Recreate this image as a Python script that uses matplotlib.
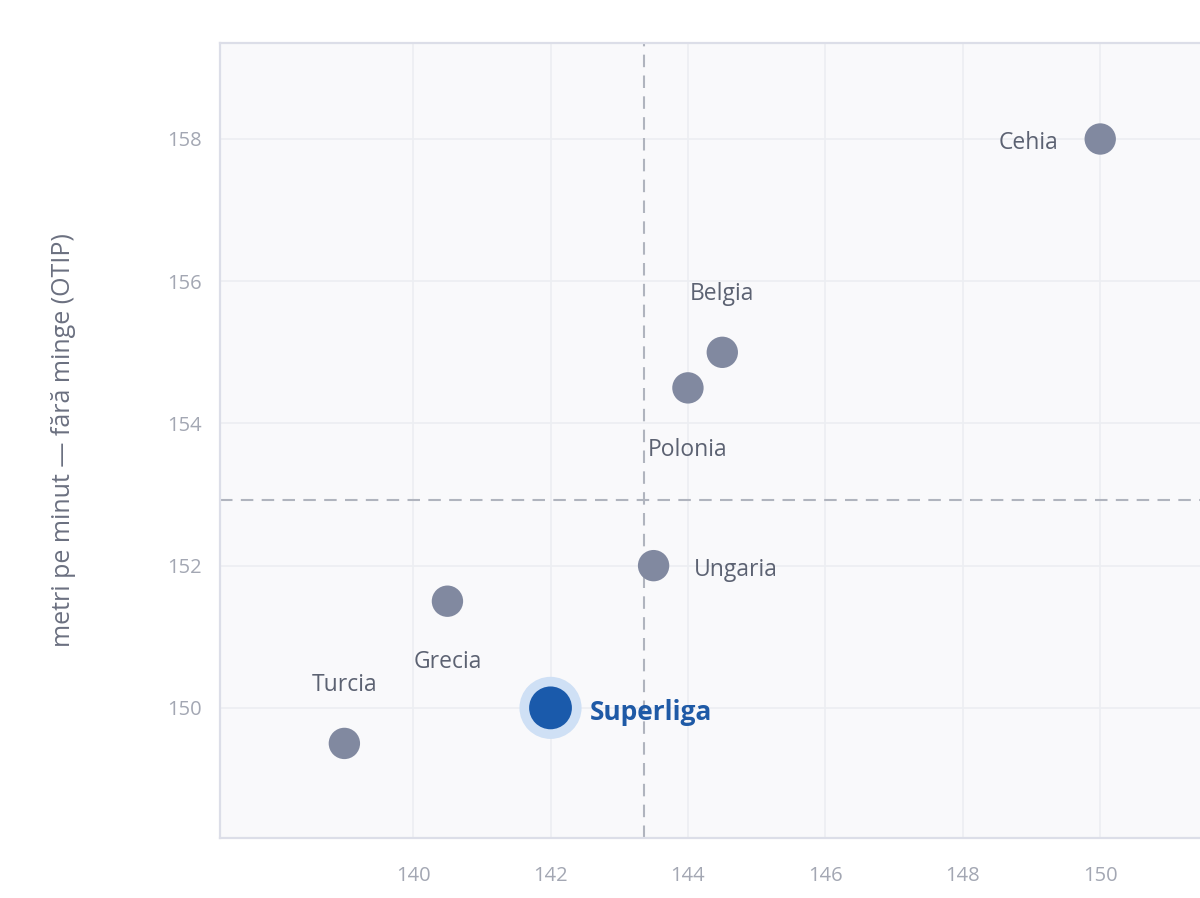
import numpy as np
import matplotlib.pyplot as plt

# data
countries = ["Cehia", "Belgia", "Polonia", "Ungaria", "Grecia", "Turcia", "Superliga"]
x_vals = [150.0, 144.5, 144.0, 143.5, 140.5, 139.0, 142.0]
y_vals = [158.0, 155.0, 154.5, 152.0, 151.5, 149.5, 150.0]
x_ticks = [140, 142, 144, 146, 148, 150]
y_ticks = [150, 152, 154, 156, 158]
y_label = "metri pe minut — fără minge (OTIP)"
highlight = "Superliga"

# label placement (offset in points, alignment)
label_pos = {
    "Cehia": ((-30, -3), "right", "center"),
    "Belgia": ((0, 42), "center", "center"),
    "Polonia": ((0, -45), "center", "center"),
    "Ungaria": ((29, -3), "left", "center"),
    "Grecia": ((0, -44), "center", "center"),
    "Turcia": ((0, 42), "center", "center"),
    "Superliga": ((28, -3), "left", "center"),
}

plt.rcParams["font.family"] = ["Open Sans", "DejaVu Sans"]

fig = plt.figure(figsize=(12, 8.98), dpi=100)
ax = fig.add_axes([220 / 1200, 60 / 898, 1052 / 1200, 795 / 898])
ax.set_facecolor("#f9f9fb")

x_mean = np.mean(x_vals)
y_mean = np.mean(y_vals)

ax.axvline(x_mean, color="#b0b4be", lw=1.5, ls=(0, (6, 4)), zorder=2)
ax.axhline(y_mean, color="#b0b4be", lw=1.5, ls=(0, (6, 4)), zorder=2)

for name, x, y in zip(countries, x_vals, y_vals):
    off, ha, va = label_pos[name]
    if name == highlight:
        ax.scatter(x, y, s=2000, color="#cfe0f5", edgecolors="none", zorder=3)
        ax.scatter(x, y, s=950, color="#1a5aab", edgecolors="none", zorder=4)
        ax.annotate(name, (x, y), xytext=off, textcoords="offset points",
                    ha=ha, va=va, fontsize=19, fontweight="bold",
                    color="#1f5aa6", zorder=5)
    else:
        ax.scatter(x, y, s=510, color="#8189a0", edgecolors="none", zorder=4)
        ax.annotate(name, (x, y), xytext=off, textcoords="offset points",
                    ha=ha, va=va, fontsize=16.5, color="#5c6272", zorder=5)

ax.set_xlim(137.19, 152.5)
ax.set_ylim(148.17, 159.35)
ax.set_xticks(x_ticks)
ax.set_yticks(y_ticks)
ax.grid(True, color="#eceef2", lw=1.2, zorder=0)
ax.set_axisbelow(True)
ax.tick_params(length=0, labelsize=14.5, labelcolor="#a3a7b3")
ax.tick_params(axis="x", pad=20)
ax.tick_params(axis="y", pad=13)

for spine in ax.spines.values():
    spine.set_color("#dcdee8")
    spine.set_linewidth(1.6)

ax.set_ylabel(y_label, fontsize=18, color="#6b7080", labelpad=66)

plt.savefig("out.png", dpi=100)
